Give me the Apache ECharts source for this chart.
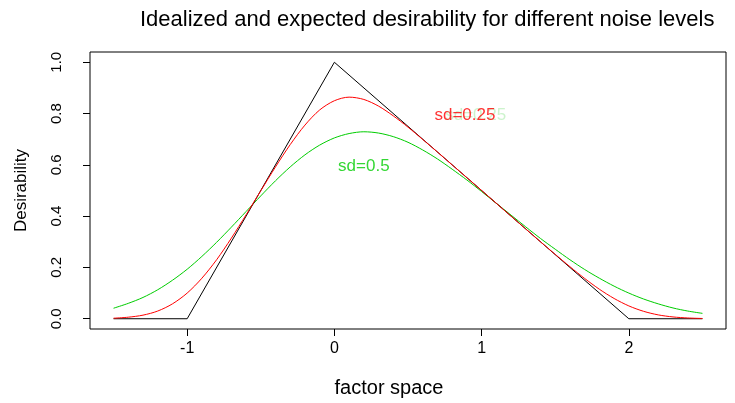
<!DOCTYPE html>
<html>
<head>
<meta charset="utf-8">
<script src="https://cdn.jsdelivr.net/npm/echarts@6/dist/echarts.min.js"></script>
<style>
  html, body { margin: 0; padding: 0; background: #fff; }
  #chart { width: 735px; height: 403px; }
</style>
</head>
<body>
<div id="chart"></div>
<script>
// factor space grid
var xs = [-1.5, -1.4, -1.3, -1.2, -1.1, -1.0, -0.9, -0.8, -0.7, -0.6, -0.5, -0.4, -0.3, -0.2, -0.1,
  0.0, 0.1, 0.2, 0.3, 0.4, 0.5, 0.6, 0.7, 0.8, 0.9, 1.0, 1.1, 1.2, 1.3, 1.4, 1.5,
  1.6, 1.7, 1.8, 1.9, 2.0, 2.1, 2.2, 2.3, 2.4, 2.5]

// idealized desirability (black)
var idealX = [-1.5, -1, 0, 2, 2.5]
var idealY = [0, 0, 1, 0, 0]

// expected desirability, sd = 0.25 (red)
var sd025 = [0.002, 0.006, 0.014, 0.030, 0.058, 0.100, 0.158, 0.230, 0.314, 0.405, 0.499, 0.592, 0.679, 0.755, 0.814,
  0.850, 0.864, 0.855, 0.829, 0.791, 0.747, 0.699, 0.650, 0.600, 0.550, 0.500, 0.450, 0.400, 0.350, 0.300, 0.251,
  0.203, 0.157, 0.115, 0.079, 0.050, 0.029, 0.015, 0.007, 0.003, 0.001]

// expected desirability, sd = 0.5 (green)
var sd05 = [0.041, 0.060, 0.083, 0.113, 0.150, 0.193, 0.243, 0.298, 0.357, 0.418, 0.479, 0.538, 0.592, 0.639, 0.677,
  0.705, 0.722, 0.729, 0.724, 0.710, 0.688, 0.658, 0.623, 0.583, 0.541, 0.496, 0.450, 0.404, 0.358, 0.313, 0.271,
  0.230, 0.192, 0.158, 0.127, 0.100, 0.077, 0.058, 0.042, 0.030, 0.021]

var xTicks = [-1, 0, 1, 2]
var yTicks = [0, 0.2, 0.4, 0.6, 0.8, 1.0]

// text labels placed in data coordinates
var labelTexts = ['sd=0.25', 'sd=0.25', 'sd=0.5']
var labelX = [0.96, 0.887, 0.2]
var labelY = [0.794, 0.794, 0.596]
var labelColors = ['#bff0bf', '#ff0000', '#00cd00']

var font = 'Liberation Sans, Arial, sans-serif'

function pairs (a, b) {
  var out = []
  for (var i = 0; i < a.length; i++) out.push([a[i], b[i]])
  return out
}

var labelData = []
for (var i = 0; i < labelTexts.length; i++) {
  labelData.push({
    value: [labelX[i], labelY[i]],
    label: { show: true, formatter: labelTexts[i], color: labelColors[i] }
  })
}

var chart = echarts.init(document.getElementById('chart'), null, { renderer: 'canvas' })
chart.setOption({
  animation: false,
  backgroundColor: '#fff',
  textStyle: { fontFamily: font },
  title: {
    text: 'Idealized and expected desirability for different noise levels',
    left: 135,
    top: 4,
    textStyle: { fontSize: 22, fontWeight: 'normal', color: '#000', fontFamily: font }
  },
  grid: {
    left: 90, right: 9, top: 52, bottom: 73,
    show: true, borderColor: '#000', borderWidth: 1
  },
  xAxis: {
    type: 'value',
    min: -1.66, max: 2.66,
    name: 'factor space',
    nameLocation: 'middle',
    nameGap: 49,
    nameTextStyle: { fontSize: 20, color: '#000', fontFamily: font, padding: [0, 38, 0, 0] },
    axisLine: { show: false, onZero: false },
    splitLine: { show: false },
    axisTick: { show: true, length: 7, inside: false, customValues: xTicks, lineStyle: { color: '#000' } },
    axisLabel: { customValues: xTicks, margin: 12, fontSize: 16, color: '#000', fontFamily: font }
  },
  yAxis: {
    type: 'value',
    min: -0.04, max: 1.04,
    name: 'Desirability',
    nameLocation: 'middle',
    nameRotate: 90,
    nameGap: 60,
    nameTextStyle: { fontSize: 17, color: '#000', fontFamily: font },
    axisLine: { show: false, onZero: false },
    splitLine: { show: false },
    axisTick: { show: true, length: 7, inside: false, customValues: yTicks, lineStyle: { color: '#000' } },
    axisLabel: {
      customValues: yTicks, rotate: 90, margin: 26, fontSize: 15, color: '#000', fontFamily: font,
      formatter: function (v) { return v.toFixed(1) }
    }
  },
  series: [
    {
      type: 'line', data: pairs(idealX, idealY), showSymbol: false,
      lineStyle: { color: '#000', width: 1 }, z: 3
    },
    {
      type: 'line', data: pairs(xs, sd025), showSymbol: false, smooth: 0.3,
      lineStyle: { color: '#ff0000', width: 1 }, z: 4
    },
    {
      type: 'line', data: pairs(xs, sd05), showSymbol: false, smooth: 0.3,
      lineStyle: { color: '#00cd00', width: 1 }, z: 2
    },
    {
      type: 'scatter', data: labelData, symbolSize: 0, z: 5,
      label: { position: 'inside', fontSize: 17, fontFamily: font }
    }
  ]
})
</script>
</body>
</html>
